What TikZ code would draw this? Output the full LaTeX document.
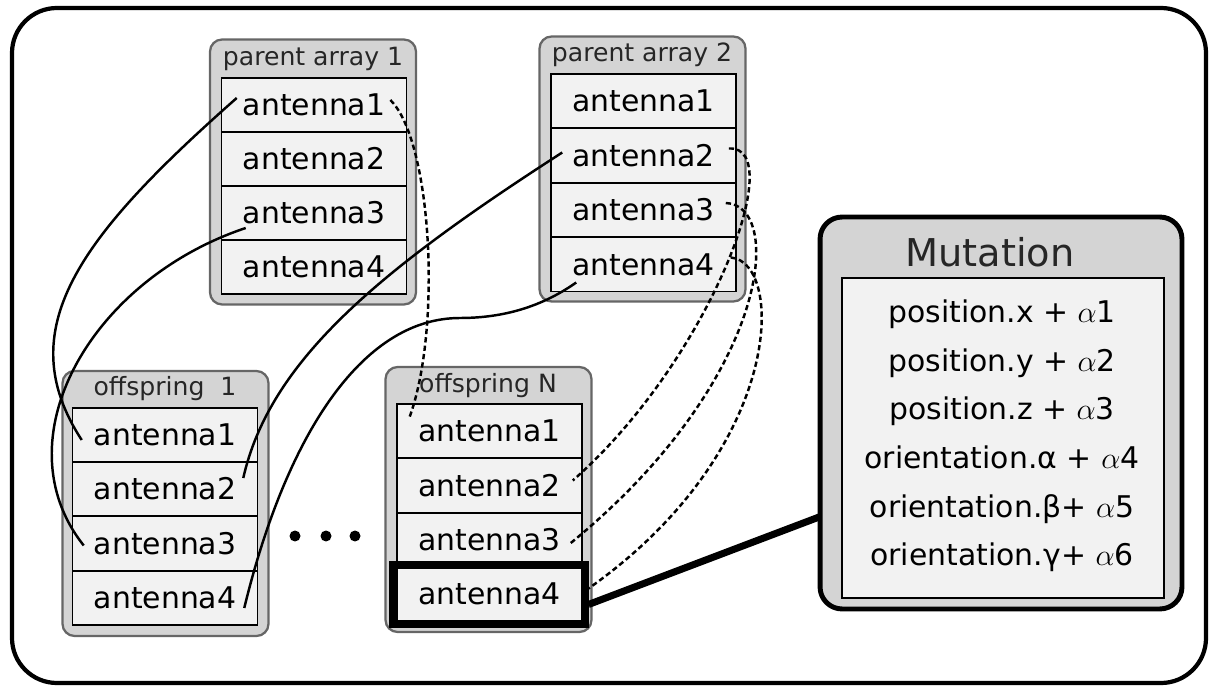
\documentclass[tikz,border=0pt]{standalone}
\usepackage{fontspec}
\setmainfont{DejaVu Sans}

\begin{document}
\begin{tikzpicture}[
  x=0.02cm, y=-0.02cm,
  every node/.style={inner sep=0pt},
  arraybox/.style={draw=black!60, fill=black!17, line width=1.3pt, rounded corners=0.24cm,
    minimum width=4.12cm, minimum height=5.3cm},
  boxtitle/.style={font=\fontsize{14.3}{16}\selectfont, text=black!85},
  antrow/.style={draw, fill=black!5, line width=0.9pt, minimum width=3.7cm,
    minimum height=1.08cm, font=\fontsize{17}{20}\selectfont},
  link/.style={draw, line width=1.4pt},
  crosslink/.style={link, dash pattern=on 3pt off 1.8pt}]

  \useasboundingbox (0,0) rectangle (1216,688);

  % ---- frame --------------------------------------------------------------
  \draw[line width=2.4pt, rounded corners=0.9cm] (12,8) rectangle (1206,683);

  % ---- parent arrays ------------------------------------------------------
  \node[arraybox] (P1) at (313,172) {};
  \node[boxtitle] (P1t) at (313,59) {parent array 1};
  \node[antrow] (P1a1) at (314,105)   {antenna1};
  \node[antrow] (P1a2) at (314,159)   {antenna2};
  \node[antrow] (P1a3) at (314,213)   {antenna3};
  \node[antrow] (P1a4) at (314,267)   {antenna4};

  \node[arraybox] (P2) at (642.5,169) {};
  \node[boxtitle] (P2t) at (642,55) {parent array 2};
  \node[antrow] (P2a1) at (643.5,101)   {antenna1};
  \node[antrow] (P2a2) at (643.5,155.5) {antenna2};
  \node[antrow] (P2a3) at (643.5,210)   {antenna3};
  \node[antrow] (P2a4) at (643.5,264.5) {antenna4};

  % ---- offspring ----------------------------------------------------------
  \node[arraybox] (O1) at (165.5,503.5) {};
  \node[boxtitle] (O1t) at (165,389) {offspring\ \ 1};
  \node[antrow] (O1a1) at (165,435)   {antenna1};
  \node[antrow] (O1a2) at (165,489)   {antenna2};
  \node[antrow] (O1a3) at (165,543.5) {antenna3};
  \node[antrow] (O1a4) at (165,598)   {antenna4};

  \node[arraybox] (ON) at (488.5,499.5) {};
  \node[boxtitle] (ONt) at (488,386) {offspring N};
  \node[antrow] (ONa1) at (489.5,431)   {antenna1};
  \node[antrow] (ONa2) at (489.5,485.5) {antenna2};
  \node[antrow] (ONa3) at (489.5,540)   {antenna3};
  \node[antrow] (ONa4) at (489.5,594)   {antenna4};
  % the mutated one
  \node[draw, line width=4pt, minimum width=3.86cm, minimum height=1.18cm] (ONsel) at (488.5,594.5) {};

  % the dots between
  \fill (295,536) circle[radius=0.11cm];
  \fill (326,536) circle[radius=0.11cm];
  \fill (355,536) circle[radius=0.11cm];

  % ---- mutation -----------------------------------------------------------
  \draw[line width=4pt] ([shift={(0,10)}]ONsel.east) -- ([shift={(0,35)}]1001,413);
  \node[draw, fill=black!17, line width=2.8pt, rounded corners=0.44cm,
    minimum width=7.24cm, minimum height=7.84cm] (Mut) at (1001,413) {};
  \node[font=\fontsize{21.8}{24}\selectfont, text=black!85] (Mutt) at (990,252) {Mutation};
  \node[draw, fill=black!5, line width=0.9pt, minimum width=6.44cm, minimum height=6.4cm] (MutIn) at (1003,438) {};
  \node[align=center, font=\fontsize{17}{27.7}\selectfont] (MutTxt) at (1002,436) {%
    position.x + $\alpha$1\\
    position.y + $\alpha$2\\
    position.z + $\alpha$3\\
    orientation.α + $\alpha$4\\
    orientation.β+ $\alpha$5\\
    orientation.γ+ $\alpha$6};

  % ---- crossover links ----------------------------------------------------
  % parent array 1 -> offspring 1
  \draw[link] ([shift={(16,-7)}]P1a1.west) .. controls (78,238) and (10,330) .. ([shift={(10,5)}]O1a1.west);
  \draw[link] ([shift={(25,15)}]P1a3.west) .. controls (90,280) and (0,440) .. ([shift={(12,2)}]O1a3.west);
  % parent array 2 -> offspring 1
  \draw[link] ([shift={(-15,-11)}]O1a2.east) .. controls (270,360) and (380,270) .. ([shift={(12,-3)}]P2a2.west);
  \draw[link] ([shift={(-14,10)}]O1a4.east) .. controls (285,440) and (360,318) .. (460,318)
    .. controls (510,318) and (547,303) .. ([shift={(26,18)}]P2a4.west);
  % parents -> offspring N
  \draw[crosslink] ([shift={(-17,-5)}]P1a1.east) .. controls (432,140) and (442,330) .. ([shift={(13,-13)}]ONa1.west);
  \draw[crosslink] ([shift={(-8,-7)}]P2a2.east) .. controls (790,145) and (710,360) .. ([shift={(-10,-5)}]ONa2.east);
  \draw[crosslink] ([shift={(-11,-7)}]P2a3.east) .. controls (785,205) and (770,380) .. ([shift={(-12,3)}]ONa3.east);
  \draw[crosslink] ([shift={(-6,-7)}]P2a4.east) .. controls (785,262) and (785,450) .. ([shift={(0,-6)}]ONsel.east);
\end{tikzpicture}
\end{document}
